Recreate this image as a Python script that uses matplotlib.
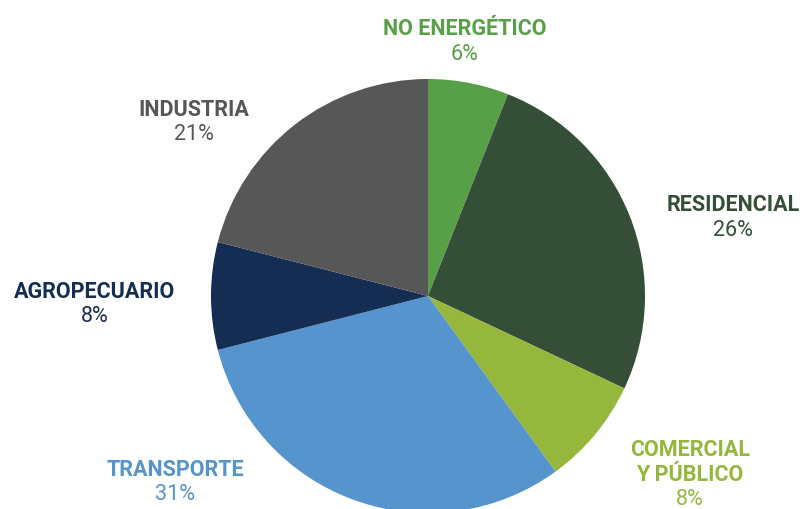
import matplotlib
matplotlib.use("Agg")
import matplotlib.pyplot as plt

categories = ["NO ENERGÉTICO", "RESIDENCIAL", "COMERCIAL\nY PÚBLICO", "TRANSPORTE", "AGROPECUARIO", "INDUSTRIA"]
values = [6, 26, 8, 31, 8, 21]
pct_labels = ["6%", "26%", "8%", "31%", "8%", "21%"]
colors = ["#58A047", "#354E37", "#95B73B", "#5694CE", "#152D53", "#575757"]

W, H = 806, 510
fig = plt.figure(figsize=(W / 100, H / 100), dpi=100)
ax = fig.add_axes([0, 0, 1, 1])

cx, cy, r = 428, H - 297, 217
ax.pie(values, colors=colors, startangle=90, counterclock=False,
       center=(cx, cy), radius=r, frame=True,
       wedgeprops=dict(linewidth=0))
ax.set_xlim(0, W)
ax.set_ylim(0, H)
ax.set_aspect("equal")
ax.axis("off")

# label anchor positions (pixel coords from top): (x, y of first line)
label_pos = [(465, 29), (733, 205), (690, 450), (175, 470), (95, 292), (194, 110)]
line_h = 25
font = "Roboto"
for name, pct, col, (x, y) in zip(categories, pct_labels, colors, label_pos):
    lines = name.split("\n")
    for i, ln in enumerate(lines):
        ax.text(x, H - (y + i * line_h), ln, color=col, fontsize=15.5,
                fontweight="bold", family=font, ha="center", va="center")
    ax.text(x, H - (y + len(lines) * line_h), pct, color=col, fontsize=15.5,
            family=font, ha="center", va="center")

fig.savefig("out.png", dpi=100)
